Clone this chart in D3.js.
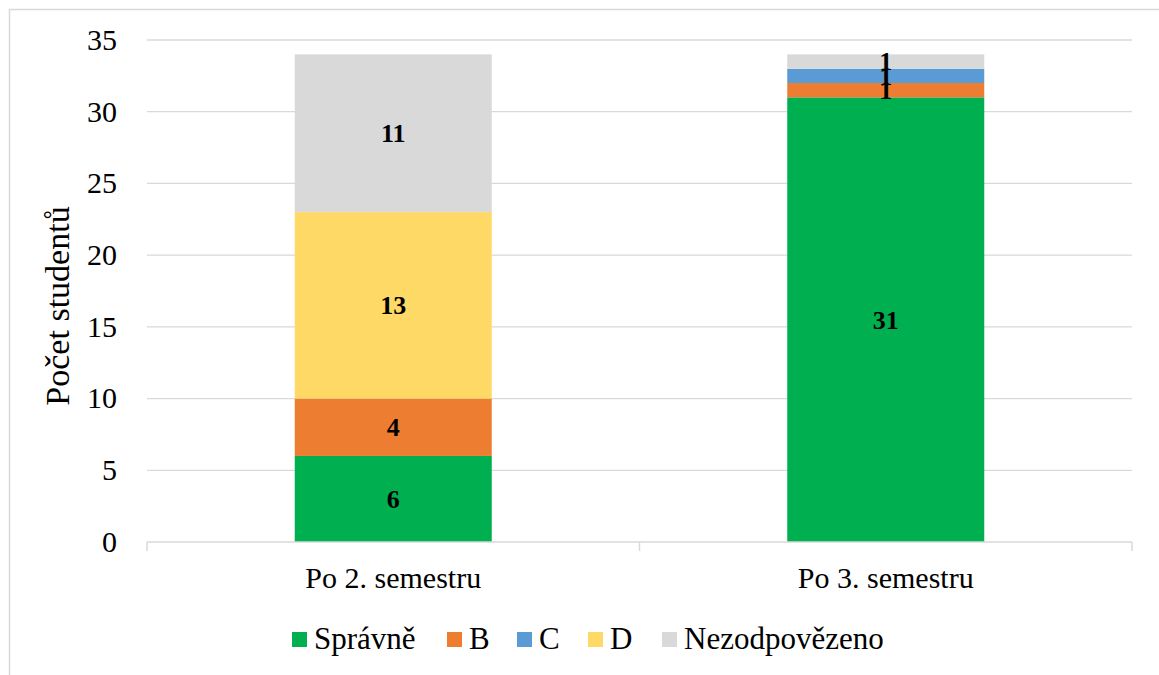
<!DOCTYPE html>
<html><head><meta charset="utf-8">
<script src="https://cdn.jsdelivr.net/npm/d3@7"></script>
<style>body{margin:0;background:#fff}svg{display:block}text{font-family:"Liberation Serif","Times New Roman",serif}</style>
</head><body>
<svg id="c" width="1159" height="675"></svg>
<script>
const categories = ["Po 2. semestru", "Po 3. semestru"];
const seriesNames = ["Správně", "B", "C", "D", "Nezodpovězeno"];
const seriesColors = ["#00b050", "#ed7d31", "#5b9bd5", "#ffd966", "#d9d9d9"];
const spravne = [6, 31];
const b = [4, 1];
const c = [0, 1];
const d = [13, 0];
const nezodpovezeno = [11, 1];
const yTicks = [0, 5, 10, 15, 20, 25, 30, 35];
const yTitle = "Počet studentů";

const values = [spravne, b, c, d, nezodpovezeno];
const rows = categories.map((cat, i) => {
  const r = {cat};
  seriesNames.forEach((s, j) => r[s] = values[j][i]);
  return r;
});
const stack = d3.stack().keys(seriesNames)(rows);

const svg = d3.select("#c");
svg.append("path").attr("d", "M9.5,675 V9.5 H1159").attr("fill", "none").attr("stroke", "#d9d9d9").attr("stroke-width", 1.5);

const L = 147, R = 1132, T = 40, B = 542;
const x = d3.scaleBand().domain(categories).range([L, R]).paddingInner(0.6).paddingOuter(0.3);
const y = d3.scaleLinear().domain([0, 35]).range([B, T]);

// gridlines
svg.append("g").selectAll("line").data(yTicks.filter(t => t > 0)).join("line")
  .attr("x1", L).attr("x2", R).attr("y1", t => y(t)).attr("y2", t => y(t))
  .attr("stroke", "#d9d9d9").attr("stroke-width", 1.3);

// y tick labels
svg.append("g").selectAll("text").data(yTicks).join("text")
  .attr("x", 117).attr("y", t => y(t)).attr("dy", "0.33em")
  .attr("text-anchor", "end").attr("font-size", 30).attr("fill", "#000").text(t => t);

// y title
svg.append("text").attr("transform", `translate(69,306) rotate(-90)`)
  .attr("text-anchor", "middle").attr("font-size", 34).text(yTitle);

// bars
const groups = svg.append("g").selectAll("g").data(stack).join("g").attr("fill", (s, i) => seriesColors[i]);
groups.selectAll("rect").data(s => s).join("rect")
  .attr("x", dd => x(dd.data.cat)).attr("width", x.bandwidth())
  .attr("y", dd => y(dd[1])).attr("height", dd => y(dd[0]) - y(dd[1]));

// labels
const lab = svg.append("g");
stack.forEach(s => {
  s.forEach(dd => {
    const v = dd[1] - dd[0];
    if (v > 0) {
      lab.append("text").attr("x", x(dd.data.cat) + x.bandwidth() / 2)
        .attr("y", y((dd[0] + dd[1]) / 2)).attr("dy", "0.34em")
        .attr("text-anchor", "middle").attr("font-size", 26).attr("font-weight", "bold")
        .text(v);
    }
  });
});

// x axis
svg.append("line").attr("x1", L).attr("x2", R).attr("y1", B).attr("y2", B).attr("stroke", "#d9d9d9").attr("stroke-width", 1.5);
const step = (R - L) / categories.length;
svg.append("g").selectAll("line").data(d3.range(categories.length + 1)).join("line")
  .attr("x1", i => L + i * step).attr("x2", i => L + i * step).attr("y1", B).attr("y2", B + 9)
  .attr("stroke", "#d9d9d9").attr("stroke-width", 1.5);
svg.append("g").selectAll("text").data(categories).join("text")
  .attr("x", cc => x(cc) + x.bandwidth() / 2).attr("y", 588)
  .attr("text-anchor", "middle").attr("font-size", 30).text(cc => cc);

// legend
const legX = [292, 447, 517, 588, 662];
const leg = svg.append("g");
seriesNames.forEach((s, i) => {
  leg.append("rect").attr("x", legX[i]).attr("y", 632).attr("width", 15).attr("height", 15).attr("fill", seriesColors[i]);
  leg.append("text").attr("x", legX[i] + 22).attr("y", 649).attr("font-size", 31).text(s);
});
</script>
</body></html>
